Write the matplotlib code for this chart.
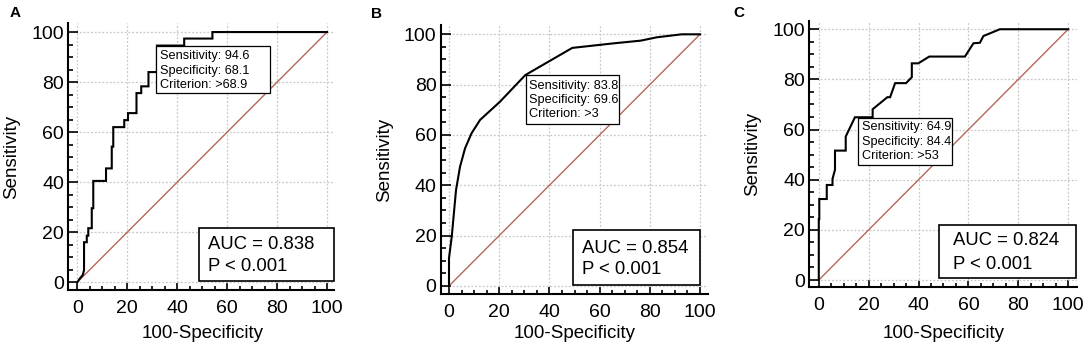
import matplotlib
matplotlib.use('Agg')
import matplotlib.pyplot as plt
from matplotlib.ticker import MultipleLocator
from matplotlib.patches import Rectangle

plt.rcParams['font.family'] = ['Liberation Sans', 'DejaVu Sans']

# ---------------- data ----------------
panel_labels = ['A', 'B', 'C']

fpr_A = [0, 1.1, 2.2, 2.7, 2.7, 3.8, 3.8, 4.4, 4.4, 5.8, 5.8, 6.4, 6.4, 11.5, 11.5,
         13.8, 13.8, 14.4, 14.4, 18.8, 18.8, 20.3, 20.3, 23.7, 23.7, 25.6, 25.6,
         28.5, 28.5, 31.9, 31.9, 42.8, 42.8, 54.1, 54.1, 100]
tpr_A = [0, 1.6, 2.9, 4.9, 16.0, 16.0, 18.6, 18.6, 21.6, 21.6, 29.6, 29.6, 40.5, 40.5, 45.5,
         45.5, 54.2, 54.2, 62.0, 62.0, 64.8, 64.8, 67.6, 67.6, 75.6, 75.6, 78.3,
         78.3, 84.0, 84.0, 94.6, 94.6, 97.4, 97.4, 100, 100]

fpr_B = [0, 0, 1.1, 2.8, 4.4, 6.4, 9.0, 12.4, 20.3, 30.4, 49.1, 65.5, 76.5, 82.7, 92.7, 100]
tpr_B = [0, 11.0, 19.6, 38.1, 47.4, 54.7, 60.7, 66.0, 73.2, 83.8, 94.6, 96.4, 97.5, 98.8, 100, 100]

fpr_C = [0, 0, 0.2, 0.2, 3.2, 3.2, 5.5, 5.5, 6.5, 6.5, 10.8, 10.8, 14.5, 21.6, 21.6,
         27.5, 28.6, 30.6, 35.0, 37.3, 37.3, 39.9, 44.3, 58.6, 62.0, 64.6, 66.0,
         68.0, 72.6, 100]
tpr_C = [0, 24.3, 24.3, 32.3, 32.3, 37.9, 37.9, 40.3, 44.0, 51.6, 51.6, 57.2, 64.9, 64.9, 68.1,
         72.9, 72.9, 78.5, 78.5, 80.9, 86.4, 86.4, 89.1, 89.1, 94.4, 94.6, 97.3,
         98.1, 100, 100]

sens_vals = ['94.6', '83.8', '64.9']
spec_vals = ['68.1', '69.6', '84.4']
crit_vals = ['>68.9', '>3', '>53']
auc_vals = ['0.838', '0.854', '0.824']
p_vals = ['< 0.001', '< 0.001', '< 0.001']

curves = [(fpr_A, tpr_A), (fpr_B, tpr_B), (fpr_C, tpr_C)]

# ---------------- layout ----------------
W, H = 1084, 345
fig = plt.figure(figsize=(W / 100, H / 100), dpi=100)

# axes rectangles in pixels: left, right, bottom, top
ax_px = [(68.3, 334.3, 290.0, 23.3),
         (440.7, 708.3, 294.0, 25.0),
         (809.3, 1076.7, 287.3, 20.7)]
xlims = [(-3.6, 102.9), (-3.3, 103.3), (-3.8, 103.4)]
ylims = [(-3.1, 103.5), (-3.2, 103.7), (-2.9, 103.4)]

# info boxes (x0, y0, x1, y1) in data units, text x, line y's
info_box = [(31.6, 75.5, 77.0, 94.5), (30.7, 64.4, 67.9, 83.8), (15.6, 45.9, 53.3, 64.5)]
info_tx = [33.0, 31.9, 17.2]
info_ty = [(90.5, 84.6, 78.8), (79.5, 73.9, 68.2), (60.9, 55.2, 49.5)]

auc_box = [(48.9, 0.3, 102.9, 21.8), (49.3, 0.4, 100.0, 22.2), (48.3, 0.7, 103.3, 21.9)]
auc_tx = [52.5, 52.9, 53.7]
auc_ty = [(14.9, 6.2), (15.0, 6.6), (15.7, 6.0)]

letter_pos = [(15, 13), (377, 14), (739, 13)]
xlabel_baseline = 338.5

diag_color = '#b5675a'

for i in range(3):
    l, r, b, t = ax_px[i]
    ax = fig.add_axes([l / W, 1 - b / H, (r - l) / W, (b - t) / H])
    ax.set_xlim(*xlims[i])
    ax.set_ylim(*ylims[i])
    for s in ['top', 'right']:
        ax.spines[s].set_visible(False)
    for s in ['left', 'bottom']:
        ax.spines[s].set_linewidth(1.5)

    ax.xaxis.set_major_locator(MultipleLocator(20))
    ax.yaxis.set_major_locator(MultipleLocator(20))
    ax.xaxis.set_minor_locator(MultipleLocator(5))
    ax.yaxis.set_minor_locator(MultipleLocator(5))
    ax.tick_params(axis='both', which='both', direction='in', width=1.2)
    ax.tick_params(axis='y', which='major', length=7.5, pad=3, labelsize=14)
    ax.tick_params(axis='x', which='major', length=5, pad=7, labelsize=14)
    ax.tick_params(axis='y', which='minor', length=3.8)
    ax.tick_params(axis='x', which='minor', length=3)

    ax.grid(True, which='major', color='#c8c8c8', linestyle=(0, (1.5, 1.5)), linewidth=0.9)
    ax.set_axisbelow(True)

    ax.plot([0, 100], [0, 100], color=diag_color, linewidth=1.0, zorder=3)
    fx, ty = curves[i]
    ax.plot(fx, ty, color='black', linewidth=1.5, zorder=4, solid_joinstyle='miter')

    # x label placed in figure pixels (centred under the 0-100 data range)
    xc = ax.transData.transform((50, 0))[0] / W
    fig.text(xc, 1 - xlabel_baseline / H, '100-Specificity', fontsize=13.5,
             ha='center', va='baseline')
    ax.set_ylabel('Sensitivity', fontsize=13.5, labelpad=8)

    x0, y0, x1, y1 = info_box[i]
    ax.add_patch(Rectangle((x0, y0), x1 - x0, y1 - y0, facecolor='white',
                           edgecolor='black', linewidth=0.9, zorder=6))
    lines = ['Sensitivity: ' + sens_vals[i], 'Specificity: ' + spec_vals[i],
             'Criterion: ' + crit_vals[i]]
    for ln, yy in zip(lines, info_ty[i]):
        ax.text(info_tx[i], yy, ln, fontsize=9.2, va='center', ha='left', zorder=7)

    x0, y0, x1, y1 = auc_box[i]
    ax.add_patch(Rectangle((x0, y0), x1 - x0, y1 - y0, facecolor='white',
                           edgecolor='black', linewidth=1.2, zorder=6, clip_on=False))
    ax.text(auc_tx[i], auc_ty[i][0], 'AUC = ' + auc_vals[i], fontsize=13.3,
            va='center', ha='left', zorder=7)
    ax.text(auc_tx[i], auc_ty[i][1], 'P ' + p_vals[i], fontsize=13.3,
            va='center', ha='left', zorder=7)

    lx, ly = letter_pos[i]
    fig.text(lx / W, 1 - ly / H, panel_labels[i], fontsize=11, fontweight='bold',
             ha='center', va='center')

fig.savefig('out.png', dpi=100)
